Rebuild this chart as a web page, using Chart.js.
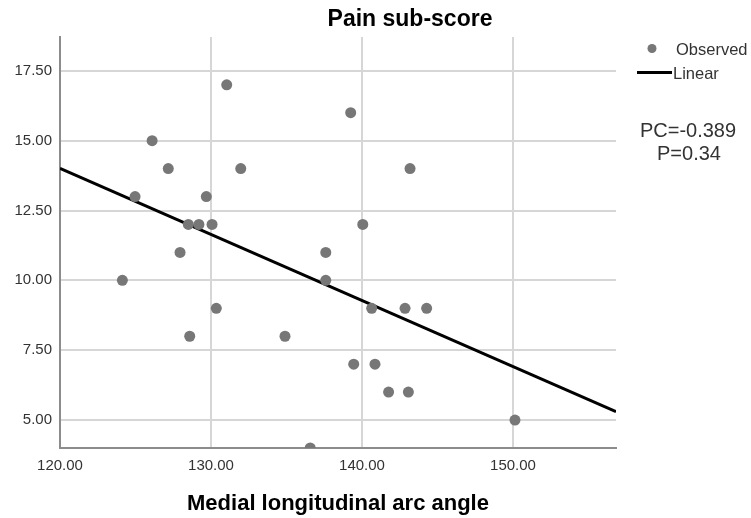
<!DOCTYPE html>
<html><head><meta charset="utf-8">
<script src="https://cdn.jsdelivr.net/npm/chart.js@4.4.0/dist/chart.umd.min.js"></script>
<style>html,body{margin:0;padding:0;background:#fff}#wrap{width:751px;height:518px}</style>
</head><body><div id="wrap"><canvas id="c" width="751" height="518"></canvas></div>
<script>
const angle = [131.04, 139.25, 126.1, 127.17, 131.97, 143.18, 124.97, 129.69, 128.5, 129.2, 130.07, 140.05, 127.95, 137.6, 124.13, 137.6, 130.35, 140.64, 128.59, 134.9, 139.45, 140.86, 136.57, 142.85, 144.28, 141.76, 143.07, 150.13];
const pain  = [17, 16, 15, 14, 14, 14, 13, 13, 12, 12, 12, 12, 11, 11, 10, 10, 9, 9, 8, 8, 7, 7, 4, 9, 9, 6, 6, 5];
const fitX = [120, 156.82];
const fitY = [14.01, 5.30];
const xTicks = [120, 130, 140, 150];
const yTicks = [5, 7.5, 10, 12.5, 15, 17.5];
const titleText = 'Pain sub-score';
const xTitle = 'Medial longitudinal arc angle';
const statLines = ['PC=-0.389', 'P=0.34'];

const FONT = '"Liberation Sans", Arial, sans-serif';
const PT = '#777777';

const textPlugin = {
  id: 'texts',
  afterDraw(chart) {
    const ctx = chart.ctx;
    ctx.save();
    ctx.fillStyle = '#000';
    ctx.textAlign = 'center';
    ctx.textBaseline = 'middle';
    ctx.font = 'bold 23px ' + FONT;
    ctx.fillText(titleText, 410, 20);
    const a = chart.chartArea;
    ctx.font = 'bold 22px ' + FONT;
    ctx.fillText(xTitle, (a.left + a.right) / 2, 504);
    // legend
    ctx.fillStyle = PT;
    ctx.beginPath(); ctx.arc(652, 48.5, 4.5, 0, Math.PI * 2); ctx.fill();
    ctx.strokeStyle = '#000'; ctx.lineWidth = 3;
    ctx.beginPath(); ctx.moveTo(637, 72.5); ctx.lineTo(672, 72.5); ctx.stroke();
    ctx.fillStyle = '#333';
    ctx.textAlign = 'left';
    ctx.font = '16.5px ' + FONT;
    ctx.fillText('Observed', 676, 50.5);
    ctx.fillText('Linear', 673, 74);
    ctx.textAlign = 'center';
    ctx.font = '20px ' + FONT;
    ctx.fillText(statLines[0], 688, 131);
    ctx.fillText(statLines[1], 689, 154);
    ctx.restore();
  }
};

new Chart(document.getElementById('c'), {
  type: 'scatter',
  data: {
    datasets: [
      {
        label: 'Observed',
        data: angle.map((x, i) => ({ x, y: pain[i] })),
        backgroundColor: PT,
        borderWidth: 0,
        pointRadius: 5.5,
        pointHoverRadius: 5.5,
        clip: 0
      },
      {
        type: 'line',
        label: 'Linear',
        data: fitX.map((x, i) => ({ x, y: fitY[i] })),
        borderColor: '#000',
        borderWidth: 3,
        pointRadius: 0,
        fill: false
      }
    ]
  },
  options: {
    responsive: false,
    animation: false,
    devicePixelRatio: 1,
    layout: { padding: { top: 37, right: 135, bottom: 0, left: 0 } },
    plugins: { legend: { display: false }, title: { display: false }, tooltip: { enabled: false } },
    scales: {
      x: {
        type: 'linear', min: 120, max: 156.82,
        afterBuildTicks: s => { s.ticks = xTicks.map(v => ({ value: v })); },
        afterFit: s => { s.height = 70; },
        ticks: { callback: v => Number(v).toFixed(2), font: { size: 15, family: FONT }, color: '#333', padding: 9, maxRotation: 0, autoSkip: false },
        grid: { color: '#d6d6d6', lineWidth: 2, drawTicks: false },
        border: { color: '#8c8c8c', width: 2 }
      },
      y: {
        type: 'linear', min: 4, max: 18.71,
        afterBuildTicks: s => { s.ticks = yTicks.map(v => ({ value: v })); },
        afterFit: s => { s.width = 60; },
        ticks: { callback: v => Number(v).toFixed(2), font: { size: 15, family: FONT }, color: '#333', padding: 8, autoSkip: false },
        grid: { color: '#d6d6d6', lineWidth: 2, drawTicks: false },
        border: { color: '#8c8c8c', width: 2 }
      }
    }
  },
  plugins: [textPlugin]
});
</script></body></html>
